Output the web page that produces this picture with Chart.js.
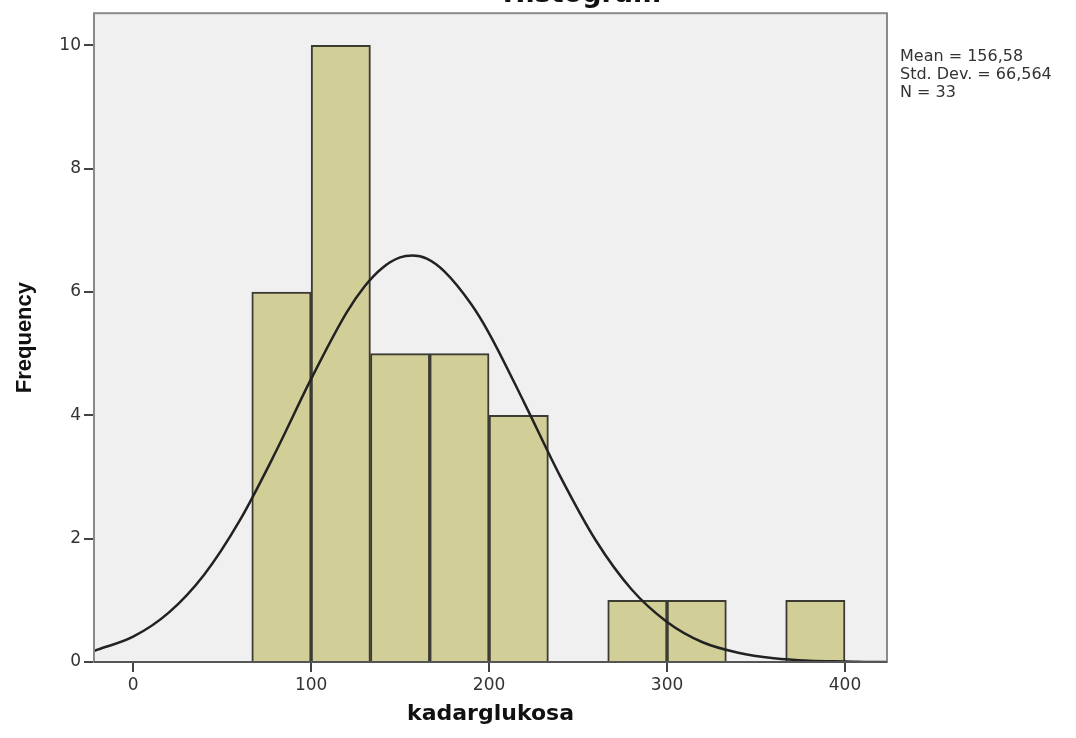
<!DOCTYPE html>
<html>
<head>
<meta charset="utf-8">
<script src="https://cdn.jsdelivr.net/npm/chart.js@4.4.1/dist/chart.umd.min.js"></script>
<style>
  html, body { margin: 0; padding: 0; background: #fff; }
  canvas { display: block; }
</style>
</head>
<body>
<canvas id="histChart" width="1076" height="738"></canvas>
<script>
// Histogram of kadarglukosa (bin width ~33.3)
const binCenters = [83.33, 116.67, 150, 183.33, 216.67, 250, 283.33, 316.67, 350, 383.33];
const frequencies = [6, 10, 5, 5, 4, 0, 1, 1, 0, 1];

// normal curve
const curveX = [-22, -20, 0, 20, 40, 60, 80, 100, 120, 130, 140, 150, 157, 165, 175, 190, 200, 220, 240, 260, 280, 300, 320, 340, 360, 380, 400, 420, 424];
const curveY = [0.18, 0.20, 0.41, 0.80, 1.42, 2.30, 3.40, 4.59, 5.67, 6.09, 6.39, 6.56, 6.59, 6.54, 6.33, 5.80, 5.33, 4.19, 3.01, 1.97, 1.18, 0.65, 0.32, 0.15, 0.06, 0.02, 0.01, 0.0, 0.0];

const xTicks = [0, 100, 200, 300, 400];
const yTicks = [0, 2, 4, 6, 8, 10];

const chartTitle = 'Histogram';
const statsLines = ['Mean = 156,58', 'Std. Dev. = 66,564', 'N = 33'];

// plot background, frame, title and stats text
const spssFrame = {
  id: 'spssFrame',
  beforeDraw(chart) {
    const { ctx, chartArea: a } = chart;
    ctx.save();
    ctx.fillStyle = '#f0f0f0';
    ctx.fillRect(a.left, a.top, a.right - a.left, a.bottom - a.top);
    ctx.restore();
  },
  afterDraw(chart) {
    const { ctx, chartArea: a } = chart;
    ctx.save();
    ctx.strokeStyle = '#8a8a8a';
    ctx.lineWidth = 2;
    ctx.strokeRect(a.left, a.top, a.right - a.left, a.bottom - a.top);
    // x axis line darker
    ctx.strokeStyle = '#555';
    ctx.beginPath();
    ctx.moveTo(a.left, a.bottom);
    ctx.lineTo(a.right, a.bottom);
    ctx.stroke();

    ctx.fillStyle = '#111';
    ctx.font = 'bold 27px "DejaVu Sans"';
    ctx.textAlign = 'center';
    ctx.textBaseline = 'alphabetic';
    ctx.fillText(chartTitle, 582, 2);

    ctx.fillStyle = '#333';
    ctx.font = '16px "DejaVu Sans"';
    ctx.textAlign = 'left';
    statsLines.forEach((s, i) => ctx.fillText(s, a.right + 13, 61 + i * 18));
    ctx.restore();
  }
};

const ctx = document.getElementById('histChart').getContext('2d');
new Chart(ctx, {
  type: 'bar',
  data: {
    datasets: [{
      type: 'line',
      data: curveX.map((x, i) => ({ x: x, y: curveY[i] })),
      borderColor: '#222',
      borderWidth: 2.5,
      pointRadius: 0,
      cubicInterpolationMode: 'monotone',
      fill: false,
      order: 0
    }, {
      type: 'bar',
      data: binCenters.map((x, i) => ({ x: x, y: frequencies[i] })),
      backgroundColor: '#d2ce98',
      borderColor: '#3c3b33',
      borderWidth: c => (c.raw && c.raw.y > 0 ? 2 : 0),
      borderSkipped: 'start',
      barPercentage: 1,
      categoryPercentage: 1,
      order: 1
    }]
  },
  options: {
    responsive: false,
    animation: false,
    devicePixelRatio: 1,
    layout: { padding: { top: 12, right: 189, left: 0, bottom: 0 } },
    plugins: {
      legend: { display: false },
      tooltip: { enabled: false },
      title: { display: false }
    },
    scales: {
      x: {
        type: 'linear',
        min: -22,
        max: 423.6,
        offset: false,
        afterBuildTicks: axis => { axis.ticks = xTicks.map(v => ({ value: v })); },
        afterFit: axis => { axis.height = 76; },
        border: { display: false },
        grid: { offset: false, drawOnChartArea: false, drawTicks: true, tickLength: 10, color: '#444', lineWidth: 2 },
        ticks: { color: '#333', padding: 3, font: { family: 'DejaVu Sans', size: 17 } },
        title: {
          display: true,
          text: 'kadarglukosa',
          color: '#111',
          font: { family: 'DejaVu Sans', size: 22, weight: 'bold' },
          padding: { top: 0, bottom: 11 }
        }
      },
      y: {
        min: 0,
        max: 10.52,
        afterBuildTicks: axis => { axis.ticks = yTicks.map(v => ({ value: v })); },
        afterFit: axis => { axis.width = 94; },
        border: { display: false },
        grid: { drawOnChartArea: false, drawTicks: true, tickLength: 10, color: '#444', lineWidth: 2 },
        ticks: { color: '#333', padding: 3, font: { family: 'DejaVu Sans', size: 17 } },
        title: {
          display: true,
          text: 'Frequency',
          color: '#111',
          font: { family: 'Liberation Sans', size: 22, weight: 'bold' },
          padding: { top: 12, bottom: 0 }
        }
      }
    }
  },
  plugins: [spssFrame]
});
</script>
</body>
</html>
